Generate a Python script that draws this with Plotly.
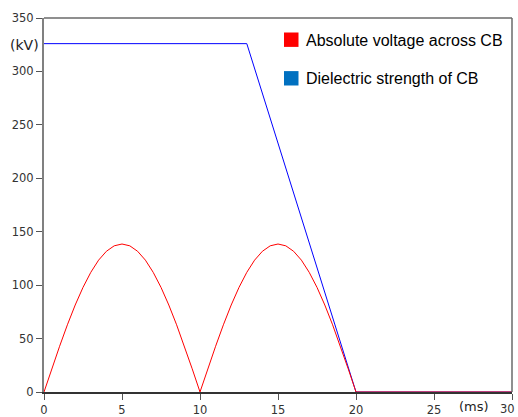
import plotly.graph_objects as go

# ---- data ----
time_ms = [0, 0.5, 1, 1.5, 2, 2.5, 3, 3.5, 4, 4.5, 5, 5.5, 6, 6.5, 7, 7.5, 8, 8.5, 9, 9.5,
           10, 10.5, 11, 11.5, 12, 12.5, 13, 13.5, 14, 14.5, 15, 15.5, 16, 16.5, 17, 17.5,
           18, 18.5, 19, 19.5, 20, 30]
abs_voltage_kv = [0, 21.7, 42.8, 62.9, 81.4, 97.9, 112.0, 123.4, 131.7, 136.8, 138.5,
                  136.8, 131.7, 123.4, 112.0, 97.9, 81.4, 62.9, 42.8, 21.7,
                  0, 21.7, 42.8, 62.9, 81.4, 97.9, 112.0, 123.4, 131.7, 136.8, 138.5,
                  136.8, 131.7, 123.4, 112.0, 97.9, 81.4, 62.9, 42.8, 21.7, 0, 0]
dielectric_t_ms = [0, 13, 20, 30]
dielectric_kv = [326, 326, 0, 0]
legend_names = ["Absolute voltage across CB", "Dielectric strength of CB"]
legend_colors = ["#ff0000", "#0070c0"]
x_ticks = [0, 5, 10, 15, 20, 25, 30]
x_tick_labels = ["0", "5", "10", "15", "20", "25", ""]   # last one drawn as text below
last_x_label = "30"
y_ticks = [0, 50, 100, 150, 200, 250, 300, 350]

# ---- layout geometry (pixels) ----
WIDTH, HEIGHT = 518, 417
L, R, T, B = 44, 6, 18, 25
PW, PH = WIDTH - L - R, HEIGHT - T - B
X_RANGE, Y_RANGE = [0, 30], [0, 350]
TICK_FONT = dict(family="DejaVu Sans", size=11.5, color="#333")


def px_x(px):
    return (px - L) / PW


def px_y(py):
    return (HEIGHT - B - py) / PH


fig = go.Figure()
fig.add_trace(go.Scatter(x=dielectric_t_ms, y=dielectric_kv, mode="lines",
                         line=dict(color="#0000ff", width=1), cliponaxis=False,
                         showlegend=False, hoverinfo="skip"))
fig.add_trace(go.Scatter(x=time_ms, y=abs_voltage_kv, mode="lines",
                         line=dict(color="#ff0000", width=1), cliponaxis=False,
                         showlegend=False, hoverinfo="skip"))

shapes = [
    # top and right frame
    dict(type="line", xref="paper", yref="paper", x0=0, x1=1, y0=1, y1=1,
         line=dict(color="#6a6a6a", width=1.5)),
    dict(type="line", xref="paper", yref="paper", x0=1, x1=1, y0=0, y1=1,
         line=dict(color="#6a6a6a", width=1.5)),
]
annotations = []
sq_centers = [39.7, 78.3]
for name, col, cy in zip(legend_names, legend_colors, sq_centers):
    shapes.append(dict(type="rect", xref="paper", yref="paper",
                       x0=px_x(284), x1=px_x(298.5), y0=px_y(cy - 7.2), y1=px_y(cy + 7.2),
                       fillcolor=col, line=dict(width=0)))
    annotations.append(dict(text=name, xref="paper", yref="paper", x=px_x(304),
                            y=px_y(cy + 0.5), xanchor="left", yanchor="middle",
                            showarrow=False,
                            font=dict(family="Liberation Sans, Arial", size=16, color="#000")))

annotations.append(dict(text="(kV)", xref="paper", yref="paper", x=px_x(24), y=px_y(45),
                        xanchor="center", yanchor="middle", showarrow=False,
                        font=dict(family="DejaVu Sans", size=14, color="#222")))
annotations.append(dict(text="(ms)", xref="paper", yref="paper", x=px_x(474), y=px_y(406),
                        xanchor="center", yanchor="middle", showarrow=False,
                        font=dict(family="DejaVu Sans", size=13, color="#222")))
annotations.append(dict(text=last_x_label, xref="paper", yref="paper", x=px_x(517),
                        y=px_y(408.5), xanchor="right", yanchor="middle", showarrow=False,
                        font=TICK_FONT))

fig.update_layout(
    width=WIDTH, height=HEIGHT,
    margin=dict(l=L, r=R, t=T, b=B, pad=0, autoexpand=False),
    paper_bgcolor="white", plot_bgcolor="white",
    showlegend=False,
    shapes=shapes, annotations=annotations,
    xaxis=dict(range=X_RANGE, tickvals=x_ticks, ticktext=x_tick_labels,
               showgrid=False, zeroline=False, showline=True, linecolor="#333",
               linewidth=1.5, ticks="outside", ticklen=6, tickcolor="#555", tickwidth=1,
               tickfont=TICK_FONT, ticklabeloverflow="allow", layer="below traces"),
    yaxis=dict(range=Y_RANGE, tickvals=y_ticks, ticktext=[str(v) for v in y_ticks],
               showgrid=False, zeroline=False, showline=True, linecolor="#808080",
               linewidth=2, ticks="outside", ticklen=6, tickcolor="#555", tickwidth=1,
               tickfont=TICK_FONT, ticklabeloverflow="allow", layer="below traces"),
)

fig.write_html("out.html")
